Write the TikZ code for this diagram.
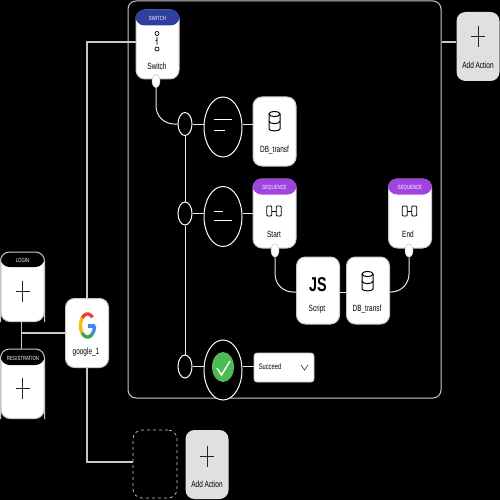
\documentclass[tikz,border=0pt]{standalone}
\usepackage{fontspec}
\setmainfont[FakeStretch=0.72]{Liberation Sans}
\usetikzlibrary{shapes.geometric}
\definecolor{wirec}{HTML}{C8C8C8}
\definecolor{switchc}{HTML}{2F3F9E}
\definecolor{seqc}{HTML}{A044E0}
\definecolor{addc}{HTML}{E0E0E0}
\definecolor{okc}{HTML}{4CBB55}
\definecolor{gred}{HTML}{EA4335}
\definecolor{gyel}{HTML}{FBBC05}
\definecolor{ggrn}{HTML}{34A853}
\definecolor{gblu}{HTML}{4285F4}
\tikzset{
  x=1pt,y=-1pt,
  wire/.style={draw=wirec,line width=1.1pt},
  iwire/.style={draw=white!92!black,line width=1pt},
  card/.style={draw=wirec,line width=1pt,fill=white,rounded corners=9pt,minimum width=43pt,minimum height=69pt,inner sep=0pt},
  addcard/.style={card,draw=none,fill=addc},
  smallc/.style={ellipse,draw=white,line width=1pt,fill=black,minimum width=14pt,minimum height=23pt,inner sep=0pt},
  bigc/.style={ellipse,draw=white,line width=1pt,fill=black,minimum width=38pt,minimum height=60pt,inner sep=0pt},
  bump/.style={ellipse,fill=white,draw=wirec,line width=.5pt,minimum width=8pt,minimum height=13pt,inner sep=0pt},
  lab/.style={font=\fontsize{9}{10}\selectfont,text=black,inner sep=0pt},
  headlab/.style={font=\fontsize{6}{7}\selectfont,inner sep=0pt},
  icon/.style={draw=black,line width=1pt},
  pluss/.style={draw=black!85,line width=1pt},
  garc/.style={line width=3.4pt,smooth,samples=14}
}
\newcommand{\hdr}[3]{\fill[#2,rounded corners=9pt] ([yshift=-#3pt]#1.north west) -- (#1.north west) -- (#1.north east) -- ([yshift=-#3pt]#1.north east) -- cycle;}
\newcommand{\dbicon}[2]{\begin{scope}[shift={(#1,#2)}]
  \draw[icon,rounded corners=1pt] (-5.5,-7) -- (-5.5,7) .. controls (-5.5,10.5) and (5.5,10.5) .. (5.5,7) -- (5.5,-7);
  \draw[icon] (0,-7) ellipse [x radius=5.5,y radius=2.6];
  \draw[icon] (-5.5,0) .. controls (-5.5,3.5) and (5.5,3.5) .. (5.5,0);
\end{scope}}
\newcommand{\seqicon}[2]{\begin{scope}[shift={(#1,#2)}]
  \draw[icon,rounded corners=1pt,line width=.8pt] (-7.2,-5) rectangle (-2.2,5);
  \draw[icon,rounded corners=1pt,line width=.8pt] (2.2,-5) rectangle (7.2,5);
  \draw[icon,line width=.8pt] (-2.2,0) -- (2.2,0);
\end{scope}}
\newcommand{\plusicon}[2]{\draw[pluss] (#1-7,#2) -- (#1+7,#2) (#1,#2-10.5) -- (#1,#2+10.5);}
\begin{document}
\begin{tikzpicture}
\fill[black] (0,0) rectangle (500,500);
\useasboundingbox (0,0) rectangle (500,500);

% container
\node[draw=wirec,line width=1pt,rounded corners=8pt,minimum width=313pt,minimum height=397pt,inner sep=0pt] (frame) at (284.5,199.5) {};

% nodes
\node[card] (google) at (87,333) {};
\node[card] (login) at (22.5,287) {};
\node[card] (reg) at (22.5,384) {};
\node[card] (sw) at (157.5,44.5) {};
\node[addcard] (addtop) at (478,46.5) {};
\node[addcard] (addbot) at (207,464.5) {};
\node[draw=wirec,dashed,line width=.7pt,rounded corners=9pt,minimum width=44pt,minimum height=68pt,inner sep=0pt] (empty) at (155,464) {};

% outer wires
\coordinate (jx) at (21.5,333);
\coordinate (top) at (87,42);
\draw[wire] (google.north) -- (top) -- (sw.west |- top);
\draw[wire] (google.south) |- (empty.west |- 0,462);
\draw[wire] (login.south -| jx) -- (reg.north -| jx);
\draw[wire] (jx) -- (google.west |- jx);
\draw[wire] (frame.east |- 0,42) -- (addtop.west |- 0,42);

% branch nodes
\node[smallc] (c1) at (185,124) {};
\node[smallc] (c2) at (185,213.5) {};
\node[smallc] (c3) at (185,366.5) {};
\node[bigc] (b1) at (223,127) {};
\node[bigc] (b2) at (223,216.5) {};
\node[bigc] (b3) at (223,370) {};
\node[card] (db1) at (274.5,131.5) {};
\node[card] (start) at (274.5,213.5) {};
\node[card] (endn) at (410,213.5) {};
\node[card,minimum height=67pt] (script) at (318,290.5) {};
\node[card,minimum height=67pt] (db2) at (368,290.5) {};
\node[draw=wirec,line width=.8pt,fill=white,rounded corners=3pt,minimum width=60pt,minimum height=29pt,inner sep=0pt] (succ) at (284,367.5) {};
\node[bump] (swb) at (156,81) {};
\node[bump] (startb) at (275,250.5) {};
\node[bump] (endb) at (409,250.5) {};

% inner wires
\draw[iwire,rounded corners=18pt] (swb.south) |- (c1.west);
\draw[iwire] (c1.south) -- (c2.north);
\draw[iwire] (c2.south) -- (c3.north);
\draw[iwire] (c1.east) -- (b1.west |- c1.east);
\draw[iwire] (b1.east |- c1.east) -- (db1.west |- c1.east);
\draw[iwire] (c2.east) -- (b2.west |- c2.east);
\draw[iwire] (b2.east |- c2.east) -- (start.west |- c2.east);
\draw[iwire] (c3.east) -- (b3.west |- c3.east);
\draw[iwire] (b3.east |- c3.east) -- (succ.west |- c3.east);
\coordinate (wy) at (0,292);
\draw[iwire,rounded corners=18pt] (startb.south) |- (script.west |- wy);
\draw[iwire] (script.east |- wy) -- (db2.west |- wy);
\draw[iwire,rounded corners=18pt] (db2.east |- wy) -| (endb.south);

% headers
\hdr{login}{black}{15}
\hdr{reg}{black}{16}
\draw[draw=wirec,line width=1pt,rounded corners=9pt] (login.south west) -- (login.north west) -- (login.north east) -- (login.south east);
\draw[draw=wirec,line width=1pt,rounded corners=9pt] (reg.south west) -- (reg.north west) -- (reg.north east) -- (reg.south east);
\hdr{sw}{switchc}{16}
\hdr{start}{seqc}{16}
\hdr{endn}{seqc}{16}
\node[headlab,text=white] (tlogin) at (22.5,260) {LOGIN};
\node[headlab,text=white] (treg) at (23,358) {REGISTRATION};
\node[headlab,text=white] (tsw) at (157.5,18) {SWITCH};
\node[headlab,text=white] (tstart) at (274.5,187.5) {SEQUENCE};
\node[headlab,text=white] (tend) at (410,187.5) {SEQUENCE};

% labels
\node[lab] (lg) at (86,352.5) {google\_1};
\node[lab] (lsw) at (157,66) {Switch};
\node[lab] (ldb1) at (274.5,150) {DB\_transf};
\node[lab] (lstart) at (274,234) {Start};
\node[lab] (lend) at (408,234) {End};
\node[lab] (lscript) at (317,309) {Script};
\node[lab] (ldb2) at (367,309) {DB\_transf};
\node[lab,font=\fontsize{8}{9}\selectfont] (lsucc) at (270,367) {Succeed};
\node[lab] (ladd1) at (478,65) {Add Action};
\node[lab] (ladd2) at (207,484) {Add Action};
\node[lab,font=\fontsize{20}{21}\selectfont\bfseries] (js) at (318,285) {JS};

% plus icons
\plusicon{22.5}{291}
\plusicon{22.5}{388}
\plusicon{478}{37}
\plusicon{207}{456}

% icons
\dbicon{274.5}{121}
\dbicon{367.5}{281}
\seqicon{274}{211}
\seqicon{409.5}{211}
\draw[icon,line width=.7pt] (157,33.5) circle [radius=2];
\draw[icon,line width=.7pt] (157,49) circle [radius=2];
\draw[icon,line width=.7pt] (157,37) -- (157,45) (155.5,41) -- (157,39.5);

% equal icons
\draw[draw=white,line width=1pt] (214,119.5) -- (232,119.5) (214,130.5) -- (225,130.5);
\draw[draw=white,line width=1pt] (214,211.5) -- (223,211.5) (214,220.5) -- (232,220.5);

% success
\fill[okc] (223,367) ellipse [x radius=11,y radius=15];
\draw[white,line width=1.4pt] (217,368) -- (221.5,375) -- (230,361);
\draw[black!70,line width=.7pt] (301,365) -- (304.5,370) -- (308,365);

% google G
\begin{scope}[shift={(87.5,325.5)}]
  \draw[gblu,line width=3.4pt] (0.8,0.5) -- (7.5,0.5);
  \draw[garc,gred] plot[domain=45:140] ({7*cos(\x)},{-11.5*sin(\x)});
  \draw[garc,gyel] plot[domain=140:220] ({7*cos(\x)},{-11.5*sin(\x)});
  \draw[garc,ggrn] plot[domain=220:315] ({7*cos(\x)},{-11.5*sin(\x)});
  \draw[garc,gblu] plot[domain=315:360] ({7*cos(\x)},{-11.5*sin(\x)});
\end{scope}
\end{tikzpicture}
\end{document}
